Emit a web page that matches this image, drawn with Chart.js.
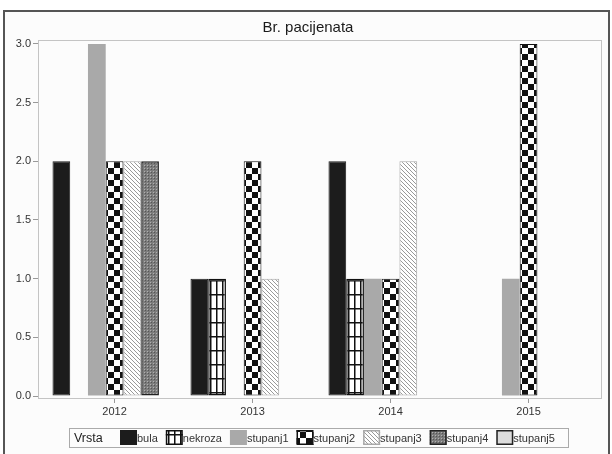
<!DOCTYPE html>
<html>
<head>
<meta charset="utf-8">
<script src="https://cdn.jsdelivr.net/npm/chart.js@4/dist/chart.umd.min.js"></script>
<style>
html,body{margin:0;padding:0;background:#fff;}
#wrap{position:relative;width:612px;height:454px;}
canvas{display:block;}
</style>
</head>
<body>
<div id="wrap"><canvas id="c" width="612" height="454"></canvas></div>
<script>
const TITLE = 'Br. pacijenata';
const LEGEND_TITLE = 'Vrsta';
const categories = ['2012', '2013', '2014', '2015'];
const seriesNames = ['bula', 'nekroza', 'stupanj1', 'stupanj2', 'stupanj3', 'stupanj4', 'stupanj5'];
const bula     = [2, 1, 2, 0];
const nekroza  = [0, 1, 1, 0];
const stupanj1 = [3, 0, 1, 1];
const stupanj2 = [2, 2, 1, 3];
const stupanj3 = [2, 1, 2, 0];
const stupanj4 = [2, 0, 0, 0];
const stupanj5 = [0, 0, 0, 0];
const yTicks = [0, 0.5, 1.0, 1.5, 2.0, 2.5, 3.0];

function tile(w, h, draw) {
  const c = document.createElement('canvas');
  c.width = w; c.height = h;
  const g = c.getContext('2d');
  draw(g, w, h);
  return document.getElementById('c').getContext('2d').createPattern(c, 'repeat');
}
const patGrid = tile(6, 14, (g, w, h) => {
  g.fillStyle = '#fff'; g.fillRect(0, 0, w, h);
  g.fillStyle = '#111'; g.fillRect(0, 0, 1.5, h); g.fillRect(0, 0, w, 1.5);
});
const patChecker = tile(12, 12, (g, w, h) => {
  g.fillStyle = '#fff'; g.fillRect(0, 0, w, h);
  g.fillStyle = '#111'; g.fillRect(0, 0, 6, 6); g.fillRect(6, 6, 6, 6);
});
const patHatch = tile(4, 4, (g, w, h) => {
  g.fillStyle = '#fff'; g.fillRect(0, 0, w, h);
  g.strokeStyle = '#999'; g.lineWidth = 1;
  g.beginPath(); g.moveTo(-1, -1); g.lineTo(w + 1, h + 1); g.stroke();
  g.beginPath(); g.moveTo(-1, h - 1); g.lineTo(1, h + 1); g.stroke();
  g.beginPath(); g.moveTo(w - 1, -1); g.lineTo(w + 1, 1); g.stroke();
});
const patDots = tile(3, 3, (g, w, h) => {
  g.fillStyle = '#7c7c7c'; g.fillRect(0, 0, w, h);
  g.fillStyle = '#b0b0b0'; g.fillRect(0, 0, 1, 1);
  g.fillStyle = '#555'; g.fillRect(1, 1, 1, 1);
});

const fills   = ['#1c1c1c', patGrid, '#a9a9a9', patChecker, patHatch, patDots, '#dcdcdc'];
const borders = ['#1c1c1c', '#111', '#a9a9a9', '#111', '#a8a8a8', '#222', '#222'];
const bwidths = [1, 1.5, 0, 1, 1, 1.5, 1.5];
const values = [bula, nekroza, stupanj1, stupanj2, stupanj3, stupanj4, stupanj5];

const datasets = seriesNames.map((n, i) => ({
  label: n,
  data: values[i].map((v, k) => ({ x: k, y: v })),
  backgroundColor: fills[i],
  borderColor: borders[i],
  borderWidth: bwidths[i],
  borderSkipped: false,
  categoryPercentage: 0.9,
  barPercentage: 1.0
}));

const FONT = "'Liberation Sans Narrow', 'Liberation Sans', Arial, sans-serif";

const decor = {
  id: 'decor',
  beforeDraw(chart) {
    const ctx = chart.ctx;
    ctx.save();
    ctx.fillStyle = '#fff';
    ctx.fillRect(0, 0, 612, 454);
    ctx.fillStyle = '#fcfcfc';
    ctx.fillRect(5, 12, 603, 442);
    ctx.strokeStyle = '#555';
    ctx.lineWidth = 2;
    ctx.strokeRect(4, 11, 605, 448);
    ctx.restore();
  },
  beforeDatasetsDraw(chart) {
    const a = chart.chartArea, ctx = chart.ctx;
    ctx.save();
    ctx.strokeStyle = '#c4c4c4';
    ctx.lineWidth = 1;
    ctx.strokeRect(a.left + 0.5, a.top + 0.5, a.right - a.left, a.bottom - a.top);
    ctx.restore();
  },
  afterDraw(chart) {
    const ctx = chart.ctx;
    ctx.save();
    ctx.fillStyle = '#1a1a1a';
    ctx.font = "15px 'Liberation Sans', Arial, sans-serif";
    ctx.textAlign = 'center';
    ctx.textBaseline = 'middle';
    ctx.fillText(TITLE, 308, 28);
    // legend
    const top = 428, h = 19;
    ctx.textAlign = 'left';
    let x = 74;
    ctx.fillStyle = '#222';
    ctx.font = "12.5px 'Liberation Sans', Arial, sans-serif";
    ctx.fillText(LEGEND_TITLE, x, top + h / 2 + 1);
    x = 120;
    ctx.font = "11px " + FONT;
    chart.data.datasets.forEach((ds) => {
      ctx.fillStyle = ds.backgroundColor;
      ctx.fillRect(x, top + 2, 17, 15);
      if (ds.borderWidth > 0) {
        ctx.strokeStyle = ds.borderColor;
        ctx.lineWidth = 1.5;
        ctx.strokeRect(x + 0.75, top + 2.75, 15.5, 13.5);
      }
      ctx.fillStyle = '#333';
      ctx.fillText(ds.label, x + 17, top + h / 2 + 1);
      x += 17 + ctx.measureText(ds.label).width + 8;
    });
    ctx.strokeStyle = '#aaa';
    ctx.lineWidth = 1;
    ctx.strokeRect(69.5, top + 0.5, Math.min(x + 8, 568) - 69, h);
    ctx.restore();
  }
};

new Chart(document.getElementById('c'), {
  type: 'bar',
  data: { datasets },
  plugins: [decor],
  options: {
    responsive: false,
    animation: false,
    layout: { padding: { top: 40, left: 0, right: 11, bottom: 0 } },
    plugins: { legend: { display: false }, title: { display: false }, tooltip: { enabled: false } },
    scales: {
      x: {
        type: 'linear',
        offset: false,
        min: -0.555,
        max: 3.525,
        afterFit(s) { s.height = 56; },
        afterBuildTicks(s) { s.ticks = categories.map((c, k) => ({ value: k })); },
        grid: { display: true, offset: false, drawOnChartArea: false, tickLength: 5, color: '#999' },
        border: { display: false },
        ticks: { color: '#333', font: { family: FONT, size: 11 }, padding: 2,
                 callback: v => categories[v] }
      },
      y: {
        min: -0.017,
        max: 3.034,
        afterFit(s) { s.width = 38; },
        afterBuildTicks(s) { s.ticks = yTicks.map(v => ({ value: v })); },
        grid: { display: true, drawOnChartArea: false, tickLength: 5, color: '#999' },
        border: { display: false },
        ticks: { color: '#333', font: { family: FONT, size: 11 }, padding: 2,
                 callback: v => Number(v).toFixed(1) }
      }
    }
  }
});
</script>
</body>
</html>
